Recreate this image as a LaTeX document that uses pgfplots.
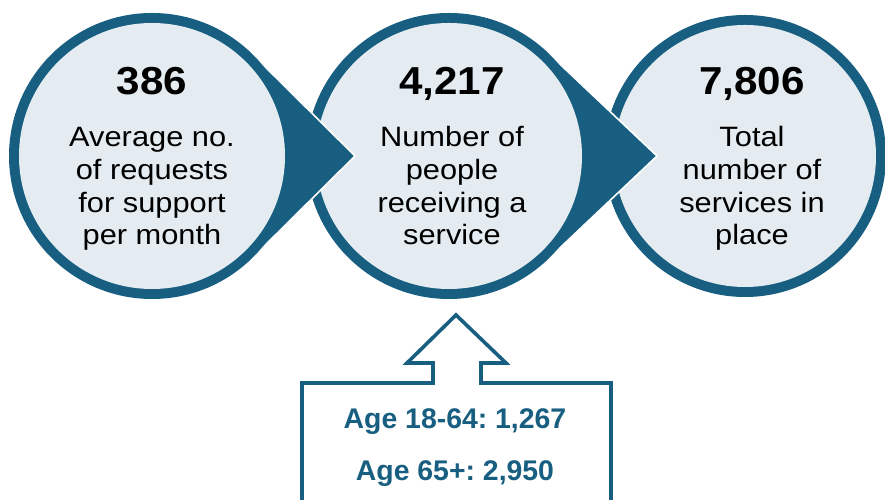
\documentclass[border=0pt]{standalone}
\usepackage{fontspec}
\usepackage{pgfplots}
\pgfplotsset{compat=1.18}
\setmainfont{Liberation Sans}
\newfontfamily\bodyfont[FakeStretch=1.1]{Liberation Sans}
\newfontfamily\numfont[FakeStretch=1.08]{Liberation Sans}
\definecolor{dblue}{HTML}{175E80}
\definecolor{lfill}{HTML}{E4ECF1}
\frenchspacing
\begin{document}
\frenchspacing
\begin{tikzpicture}
\begin{axis}[width=442.5pt, height=249.5pt, scale only axis,
  xmin=0, xmax=885, ymin=0, ymax=499, y dir=reverse, hide axis, clip=true]
% circle 3
\fill[dblue] (axis cs:745,156) circle[radius=141];
\fill[lfill] (axis cs:745,156) circle[radius=131];
% circle 2 with arrow
\addplot[fill=dblue, draw=white, line width=0.8pt] coordinates {(547.3,52.2) (657,156) (547.3,259.8)} --cycle;
\fill[dblue] (axis cs:449,156) circle[radius=143];
\fill[lfill] (axis cs:449,156) circle[radius=133];
% circle 1 with arrow
\addplot[fill=dblue, draw=white, line width=0.8pt] coordinates {(252.7,54.5) (355,156) (252.7,257.5)} --cycle;
\fill[dblue] (axis cs:152,156) circle[radius=143];
\fill[lfill] (axis cs:152,156) circle[radius=133];
% bottom arrow box
\addplot[draw=dblue, line width=1.8pt, line join=miter] coordinates {(302,520) (302,383) (433,383) (433,363) (407,363) (456,315) (506,363) (481,363) (481,383) (611,383) (611,520)};
% numbers
\node[anchor=base, font=\numfont\fontsize{19.5pt}{22pt}\selectfont\bfseries] at (axis cs:152,95) {386};
\node[anchor=base, font=\numfont\fontsize{19.5pt}{22pt}\selectfont\bfseries] at (axis cs:452,95) {4,217};
\node[anchor=base, font=\numfont\fontsize{19.5pt}{22pt}\selectfont\bfseries] at (axis cs:752,95) {7,806};
% body texts
\tikzset{body/.style={anchor=base, font=\bodyfont\fontsize{14pt}{16pt}\selectfont}}
\node[body] at (axis cs:152,147) {Average no.};
\node[body] at (axis cs:152,180) {of requests};
\node[body] at (axis cs:152,213) {for support};
\node[body] at (axis cs:152,245) {per month};
\node[body] at (axis cs:452,147) {Number of};
\node[body] at (axis cs:452,180) {people};
\node[body] at (axis cs:452,213) {receiving a};
\node[body] at (axis cs:452,245) {service};
\node[body] at (axis cs:752,147) {Total};
\node[body] at (axis cs:752,180) {number of};
\node[body] at (axis cs:752,213) {services in};
\node[body] at (axis cs:752,245) {place};
% bottom texts
\node[anchor=base, text=dblue, font=\fontsize{14.2pt}{16pt}\selectfont\bfseries] at (axis cs:455,428) {\frenchspacing Age 18-64: 1,267};
\node[anchor=base, text=dblue, font=\fontsize{14.2pt}{16pt}\selectfont\bfseries] at (axis cs:455,480) {\frenchspacing Age 65+: 2,950};
\end{axis}
\pgfresetboundingbox
\useasboundingbox (0,0) rectangle (442.5pt,249.5pt);
\end{tikzpicture}
\end{document}
